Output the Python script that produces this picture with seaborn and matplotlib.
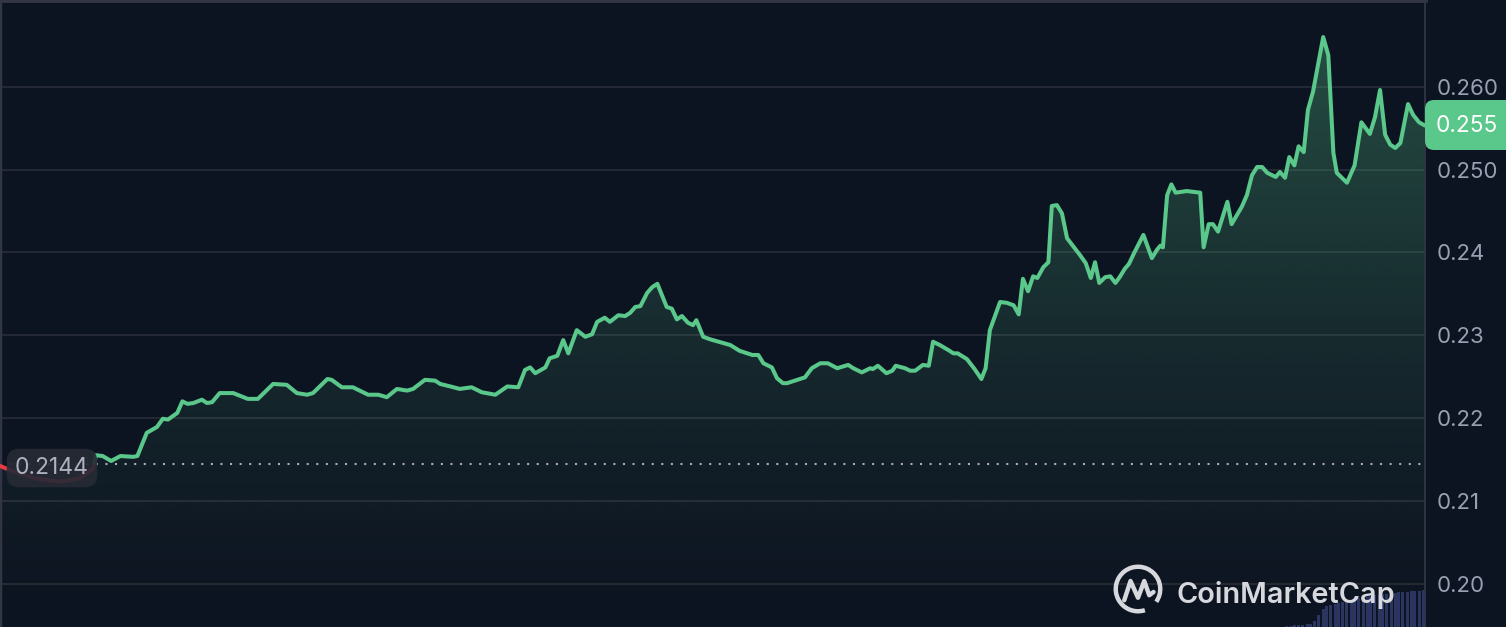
import numpy as np
import matplotlib
matplotlib.use("Agg")
import matplotlib.pyplot as plt
from matplotlib.patches import Rectangle, Arc, FancyBboxPatch
from matplotlib.colors import to_rgb
import seaborn as sns

# price over the last 7 days (hours since start)
hours = [0.0, 1.2, 4.1, 7.1, 9.4, 11.0, 11.3, 12.1, 13.1, 14.2, 15.7, 16.2, 17.3, 18.5,
         19.2, 19.8, 20.9, 21.5, 22.1, 22.8, 23.8, 24.4, 25.0, 25.9, 27.5, 29.2, 30.4,
         32.2, 33.8, 35.0, 36.2, 36.9, 38.6, 39.1, 40.3, 41.6, 43.4, 44.6, 45.6, 46.8,
         48.0, 48.7, 50.1, 51.3, 51.9, 53.1, 54.2, 55.6, 56.8, 58.4, 59.8, 61.1, 61.9,
         62.5, 63.1, 64.3, 64.8, 65.7, 66.4, 67.0, 68.0, 69.0, 69.8, 70.4, 71.3, 71.9,
         72.9, 73.7, 74.3, 74.9, 75.5, 76.3, 76.9, 77.5, 78.6, 79.2, 79.8, 80.4, 81.1,
         81.7, 82.1, 82.9, 83.7, 86.1, 87.2, 88.7, 89.4, 90.0, 91.0, 91.6, 92.3, 92.8,
         94.9, 95.7, 96.7, 97.6, 98.7, 100.0, 100.6, 101.6, 102.6, 102.9, 103.5, 104.5,
         105.2, 105.6, 106.7, 107.3, 107.9, 108.8, 109.5, 110.0, 110.8, 111.8, 112.4,
         112.9, 114.0, 114.9, 115.7, 116.2, 116.7, 117.9, 118.7, 119.5, 120.1, 120.6,
         121.2, 121.8, 122.3, 123.0, 123.6, 124.0, 124.6, 125.2, 125.8, 127.3, 128.0,
         128.6, 129.1, 129.6, 130.3, 130.9, 131.5, 132.0, 132.6, 133.1, 133.7, 134.8,
         135.8, 136.4, 136.8, 137.1, 137.6, 138.1, 138.6, 139.9, 141.5, 141.9, 142.5,
         143.0, 143.6, 144.7, 145.2, 146.4, 147.0, 147.6, 148.2, 148.8, 149.4, 150.4,
         150.9, 151.5, 152.0, 152.6, 153.1, 153.7, 154.2, 154.8, 156.0, 156.6, 157.2,
         157.6, 158.8, 159.7, 160.5, 161.5, 162.1, 162.7, 163.3, 163.9, 164.5, 165.1,
         166.0, 166.6, 167.3, 168.0]
price = [0.2142, 0.2137, 0.2127, 0.2123, 0.2127, 0.2139, 0.2155, 0.2154, 0.2148, 0.2154,
         0.2153, 0.2154, 0.2182, 0.2189, 0.2199, 0.2198, 0.2206, 0.2220, 0.2217, 0.2218,
         0.2222, 0.2218, 0.2219, 0.2230, 0.2230, 0.2223, 0.2223, 0.2241, 0.2240, 0.2230,
         0.2228, 0.2230, 0.2247, 0.2246, 0.2237, 0.2237, 0.2228, 0.2228, 0.2225, 0.2235,
         0.2233, 0.2235, 0.2246, 0.2245, 0.2241, 0.2238, 0.2235, 0.2237, 0.2231, 0.2228,
         0.2238, 0.2237, 0.2258, 0.2261, 0.2254, 0.2261, 0.2272, 0.2275, 0.2294, 0.2278,
         0.2306, 0.2298, 0.2301, 0.2316, 0.2321, 0.2316, 0.2324, 0.2323, 0.2327, 0.2334,
         0.2335, 0.2351, 0.2358, 0.2362, 0.2334, 0.2332, 0.2319, 0.2323, 0.2315, 0.2312,
         0.2318, 0.2298, 0.2295, 0.2288, 0.2281, 0.2276, 0.2276, 0.2266, 0.2261, 0.2248,
         0.2242, 0.2242, 0.2249, 0.2260, 0.2266, 0.2266, 0.2260, 0.2264, 0.2260, 0.2255,
         0.2260, 0.2259, 0.2263, 0.2254, 0.2257, 0.2263, 0.2260, 0.2257, 0.2257, 0.2264,
         0.2263, 0.2292, 0.2288, 0.2282, 0.2278, 0.2278, 0.2271, 0.2259, 0.2247, 0.2260,
         0.2306, 0.2340, 0.2339, 0.2336, 0.2325, 0.2368, 0.2353, 0.2371, 0.2369, 0.2382,
         0.2388, 0.2456, 0.2457, 0.2447, 0.2417, 0.2397, 0.2387, 0.2369, 0.2388, 0.2363,
         0.2370, 0.2371, 0.2363, 0.2370, 0.2380, 0.2386, 0.2399, 0.2421, 0.2393, 0.2403,
         0.2408, 0.2406, 0.2469, 0.2482, 0.2472, 0.2474, 0.2472, 0.2406, 0.2434, 0.2434,
         0.2425, 0.2461, 0.2434, 0.2455, 0.2469, 0.2493, 0.2503, 0.2503, 0.2496, 0.2491,
         0.2497, 0.2490, 0.2515, 0.2505, 0.2528, 0.2521, 0.2572, 0.2594, 0.2660, 0.2638,
         0.2520, 0.2496, 0.2484, 0.2505, 0.2557, 0.2543, 0.2563, 0.2596, 0.2542, 0.2530,
         0.2526, 0.2532, 0.2579, 0.2566, 0.2557, 0.2553]
baseline = 0.2144
last_price = 0.255

y_ticks = [0.20, 0.21, 0.22, 0.23, 0.24, 0.25, 0.26]
y_tick_labels = ["0.20", "0.21", "0.22", "0.23", "0.24", "0.250", "0.260"]

# trading volume (millions), only the recent bars are visible
vol_hours = [151.7, 152.2, 152.6, 153.1, 153.6, 154.1, 154.5, 155.0, 155.5, 156.0, 156.4,
             156.9, 157.4, 157.8, 158.3, 158.8, 159.3, 159.7, 160.2, 160.7, 161.2, 161.6,
             162.1, 162.6, 163.0, 163.5, 164.0, 164.5, 164.9, 165.4, 165.9, 166.4, 166.8,
             167.3, 167.8]
volume = [0.05, 0.05, 0.10, 0.10, 0.10, 0.15, 0.15, 0.30, 0.60, 0.90, 1.05, 1.10, 1.15,
          1.20, 1.25, 1.30, 1.35, 1.40, 1.45, 1.50, 1.50, 1.55, 1.60, 1.60, 1.65, 1.65,
          1.70, 1.70, 1.75, 1.75, 1.75, 1.80, 1.80, 1.80, 1.85]

BG = "#0d1421"
GRID = "#272b37"
EDGE = "#323546"
GREEN = "#5ac78b"
RED = "#ea3943"
LABEL = "#9aa0b2"

sns.set_theme(style="dark", rc={"axes.facecolor": BG, "figure.facecolor": BG})
plt.rcParams["font.family"] = ["Inter", "DejaVu Sans"]

W, H = 1506, 627
plot_w = 1425
fig = plt.figure(figsize=(W / 100, H / 100), dpi=100)
ax = fig.add_axes([0, 0, plot_w / W, 1])
ax.set_facecolor(BG)

xmin, xmax = 0, 168
ymin, ymax = 0.19475, 0.27047
ax.set_xlim(xmin, xmax)
ax.set_ylim(ymin, ymax)

# volume bars at the bottom (own axes)
axv = fig.add_axes([0, 0, plot_w / W, 1], sharex=ax)
axv.set_zorder(ax.get_zorder() + 1)
axv.patch.set_visible(False)
axv.bar(vol_hours, volume, width=0.36, color="#2b3560", lw=0, edgecolor="none")
axv.set_ylim(0, 31.35)
axv.axis("off")

# gradient fill under the line
poly = ax.fill_between(hours, price, ymin, color="none", lw=0)
clip = poly.get_paths()[0]
n = 256
rgba = np.zeros((n, 1, 4))
rgba[..., :3] = to_rgb(GREEN)
rgba[:, 0, 3] = 0.35 * np.linspace(0, 1, n) ** 1.3
im = ax.imshow(rgba, extent=[xmin, xmax, ymin, ymax], aspect="auto",
               origin="lower", zorder=1, interpolation="bilinear")
im.set_clip_path(clip, transform=ax.transData)

# line: green above the opening price, red below
sns.lineplot(x=hours, y=price, color=GREEN, lw=2.9, ax=ax, zorder=3, errorbar=None)
green_line = ax.lines[-1]
green_line.set_clip_path(Rectangle((xmin, baseline), xmax - xmin, ymax - baseline,
                                   transform=ax.transData))
sns.lineplot(x=hours, y=price, color=RED, lw=2.9, ax=ax, zorder=3, errorbar=None)
red_line = ax.lines[-1]
red_line.set_clip_path(Rectangle((xmin, ymin), xmax - xmin, baseline - ymin,
                                 transform=ax.transData))

ax.axhline(baseline, color="#a7acbb", lw=1.5, ls=(0, (1, 3.6)), zorder=2)

ax.set_yticks(y_ticks)
ax.set_yticklabels(y_tick_labels)
ax.yaxis.tick_right()
ax.tick_params(axis="y", length=0, pad=8.5, labelsize=16, labelcolor=LABEL)
ax.set_xticks([])
ax.grid(axis="y", color=GRID, lw=1.3, zorder=0)
ax.grid(axis="x", visible=False)
ax.set_xlabel("")
ax.set_ylabel("")
for side in ["left", "top", "right"]:
    ax.spines[side].set_visible(True)
    ax.spines[side].set_color(EDGE)
ax.spines["left"].set_linewidth(2.5)
ax.spines["top"].set_linewidth(3.5)
ax.spines["right"].set_linewidth(1.3)
ax.spines["bottom"].set_visible(False)

# opening price label
fig.text(15 / W, 1 - 468 / H, "0.2144", fontsize=16.5, color="#adb1c0", va="center",
         ha="left", zorder=6,
         bbox=dict(boxstyle="round,pad=0.36,rounding_size=0.55", fc="#262a35",
                   ec="none", alpha=0.92))

# current price tag
fig.patches.append(FancyBboxPatch((plot_w / W, 1 - 150 / H), (W - plot_w) / W + 0.01,
                                  50 / H, boxstyle="round,pad=0,rounding_size=0.006",
                                  transform=fig.transFigure, fc=GREEN, ec="none",
                                  mutation_aspect=W / H, zorder=5))
fig.text(1436 / W, 1 - 126 / H, f"{last_price:.3f}", fontsize=16.3, color="white",
         va="center", ha="left", zorder=6)

# CoinMarketCap watermark
fig.text(1177 / W, 1 - 603 / H, "CoinMarketCap", fontsize=20.8, fontweight="semibold",
         color="#d6d8de", ha="left", va="baseline", zorder=7)
logo = fig.add_axes([1113 / W, (H - 614) / H, 50 / W, 50 / H])
logo.set_zorder(8)
logo.set_xlim(-1, 1)
logo.set_ylim(-1, 1)
logo.axis("off")
logo.add_patch(Arc((0, 0), 1.78, 1.78, theta1=-35, theta2=288, color="#d6d8de", lw=3.2))
logo.plot([-0.55, -0.3, 0.0, 0.25, 0.45, 0.62], [-0.45, 0.32, -0.35, 0.32, -0.25, -0.12],
          color="#d6d8de", lw=3.2, solid_joinstyle="round", solid_capstyle="round")

fig.savefig("out.png", dpi=100, facecolor=BG)
